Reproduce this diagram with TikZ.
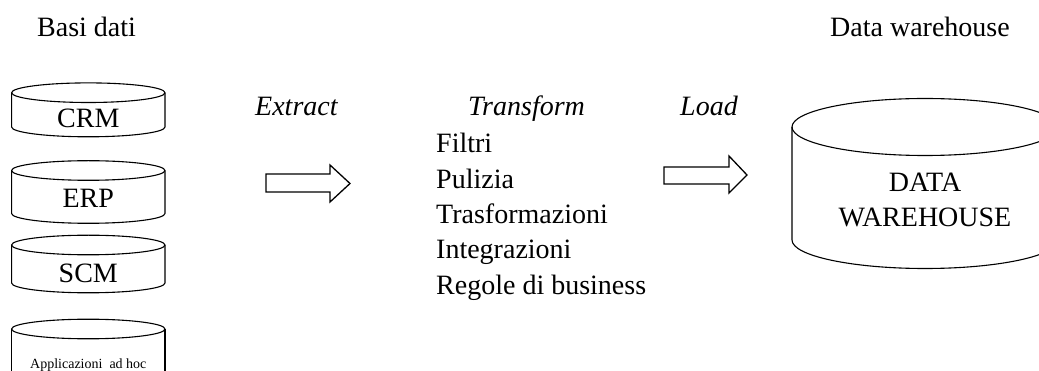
\documentclass[tikz,border=0pt]{standalone}
\usepackage{fontspec}
\setmainfont{Liberation Serif}
\newcommand\dbcyl[5]{% cx, top-centre y, bottom-centre y, rx, ry  (y measured downward)
  \draw[cyl] ({#1-#4},{-#2}) -- ({#1-#4},{-#3})
    arc[start angle=180,end angle=360,x radius=#4,y radius=#5] -- ({#1+#4},{-#2});
  \draw[cyl] (#1,{-#2}) ellipse[x radius=#4,y radius=#5];
}
\newcommand\dbopen[4]{% cx, top-centre y, rx, ry, open at bottom
  \draw[cyl] ({#1-#3},-371) -- ({#1-#3},{-#2});
  \draw[cyl] ({#1+#3},-371) -- ({#1+#3},{-#2});
  \draw[cyl] (#1,{-#2}) ellipse[x radius=#3,y radius=#4];
}
\begin{document}
\begin{tikzpicture}[x=1pt,y=1pt,
  cyl/.style={line width=1.1pt,line join=round},
  big/.style={font=\fontsize{28}{35}\selectfont,inner sep=0pt},
  bigit/.style={font=\fontsize{28}{35}\selectfont\itshape,inner sep=0pt},
  small/.style={font=\fontsize{14}{17}\selectfont,inner sep=0pt},
  blockarrow/.style={line width=1.3pt,line join=miter,fill=white}]
\useasboundingbox (0,0) rectangle (1039,-371);
% headings
\node[big,anchor=base west] (basi) at (37,-37) {Basi dati};
\node[big,anchor=base west] (dwh) at (830,-37) {Data warehouse};
% source databases
\dbcyl{88.3}{92.7}{127}{76.7}{9.8}
\node[big,anchor=base] (crm) at (88.3,-128) {CRM};
\dbcyl{88.3}{170.5}{213.5}{76.7}{9.8}
\node[big,anchor=base] (erp) at (88.3,-208) {ERP};
\dbcyl{88.3}{245}{283}{76.7}{9.8}
\node[big,anchor=base] (scm) at (88.3,-283) {SCM};
\dbopen{88.3}{329}{76.7}{9.8}
\node[small,anchor=base] (app) at (88.3,-368) {Applicazioni\ \ ad hoc};
% ETL labels
\node[bigit,anchor=base west] (extract) at (255,-116) {Extract};
\node[bigit,anchor=base west] (transform) at (468,-116) {Transform};
\node[bigit,anchor=base west] (load) at (680,-116) {Load};
\node[big,anchor=base west] (f1) at (436,-153) {Filtri};
\node[big,anchor=base west] (f2) at (436,-188.5) {Pulizia};
\node[big,anchor=base west] (f3) at (436,-224) {Trasformazioni};
\node[big,anchor=base west] (f4) at (436,-259) {Integrazioni};
\node[big,anchor=base west] (f5) at (436,-295) {Regole di business};
% block arrows
\draw[blockarrow] (266,-174) -- (330,-174) -- (330,-165) -- (350,-183.5) -- (330,-202) -- (330,-192) -- (266,-192) -- cycle;
\draw[blockarrow] (664,-167) -- (729,-167) -- (729,-156) -- (747,-175) -- (729,-193) -- (729,-184) -- (664,-184) -- cycle;
% data warehouse
\dbcyl{925}{127}{240}{133}{28.5}
\node[big,anchor=base] (dw1) at (925,-192) {DATA};
\node[big,anchor=base] (dw2) at (925,-227) {WAREHOUSE};
\end{tikzpicture}
\end{document}
